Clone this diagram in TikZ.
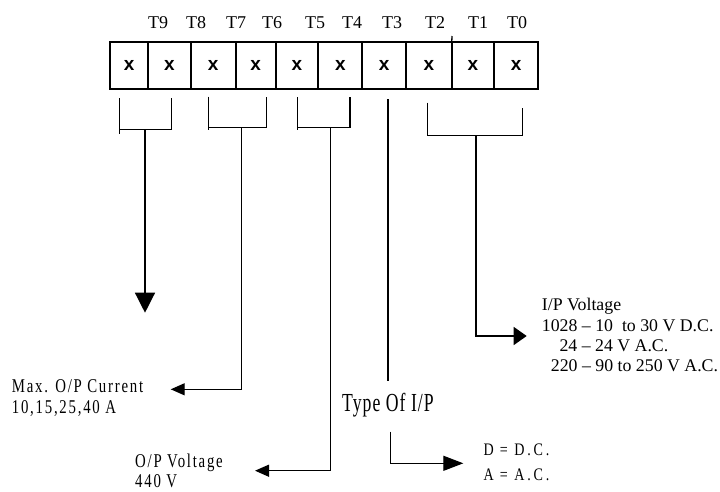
\documentclass[tikz,border=0pt]{standalone}
\usepackage{fontspec}
\setmainfont{Liberation Serif}
\newfontfamily\condfont[FakeStretch=0.76,LetterSpace=9]{Liberation Serif}
\newfontfamily\dafont[FakeStretch=0.8,LetterSpace=16]{Liberation Serif}
\newfontfamily\typefont[FakeStretch=0.68,LetterSpace=4]{Liberation Serif}
\newfontfamily\boxfont{Liberation Sans}
\usetikzlibrary{arrows.meta}
\tikzset{
  cell/.style={draw, line width=2pt, minimum height=47pt, inner sep=0pt, outer sep=0pt,
    font=\boxfont\bfseries\fontsize{19}{19}\selectfont},
  tlab/.style={inner sep=0pt, anchor=base, font=\fontsize{18}{18}\selectfont},
  wire/.style={line width=1.3pt},
  bighead/.style={-{Triangle[length=20pt,width=20pt]}},
  smallhead/.style={-{Triangle[length=14pt,width=12pt]}},
  midhead/.style={-{Triangle[length=13pt,width=18pt]}},
  dahead/.style={-{Triangle[length=20pt,width=15pt]}},
  line/.style={inner sep=0pt, anchor=base west},
  condline/.style={line, font=\condfont\fontsize{19.5}{20}\selectfont},
  daline/.style={line, font=\dafont\fontsize{17.6}{20}\selectfont},
  ipline/.style={line, font=\fontsize{17.8}{20}\selectfont},
}
\begin{document}
\begin{tikzpicture}[x=1pt,y=-1pt]
\useasboundingbox[fill=white] (0,0) rectangle (720,491);
% cells
\node[cell, minimum width=38.3pt] (c9) at (129.2,65.5) {x};
\node[cell, minimum width=42.4pt] (c8) at (169.5,65.5) {x};
\node[cell, minimum width=45pt]   (c7) at (213.2,65.5) {x};
\node[cell, minimum width=40pt]   (c6) at (255.7,65.5) {x};
\node[cell, minimum width=42.6pt] (c5) at (297,65.5) {x};
\node[cell, minimum width=44pt]   (c4) at (340.3,65.5) {x};
\node[cell, minimum width=43.7pt] (c3) at (384.2,65.5) {x};
\node[cell, minimum width=45.7pt] (c2) at (428.9,65.5) {x};
\node[cell, minimum width=42.3pt] (c1) at (472.9,65.5) {x};
\node[cell, minimum width=44.3pt] (c0) at (516.2,65.5) {x};
% tick
\coordinate (tk) at (452,36);
\draw[line width=1.3pt] (tk) -- (c1.north west);
% top labels
\node[tlab] (t9) at (158,28) {T9};
\node[tlab] (t8) at (196,28) {T8};
\node[tlab] (t7) at (236,28) {T7};
\node[tlab] (t6) at (272,28) {T6};
\node[tlab] (t5) at (315,28) {T5};
\node[tlab] (t4) at (352,28) {T4};
\node[tlab] (t3) at (392,28) {T3};
\node[tlab] (t2) at (435,28) {T2};
\node[tlab] (t1) at (478,28) {T1};
\node[tlab] (t0) at (517,28) {T0};
% brackets
\draw[wire] (119.3,98) -- (119.3,134);
\draw[wire] (119.3,129.3) -- (171.7,129.3) -- (171.7,98);
\draw[wire] (208.3,96.7) -- (208.3,130);
\draw[wire] (208.3,127.7) -- (266.7,127.7) -- (266.7,96.7);
\draw[wire] (297.3,97) -- (297.3,130);
\draw[wire] (297.3,127.7) -- (350,127.7) -- (350,97);
\draw[wire] (427.7,102.7) -- (427.7,135.7) -- (522.7,135.7) -- (522.7,108);
% stems
\coordinate (b1) at (145,129.3);
\coordinate (b2) at (241.7,127.7);
\coordinate (b3) at (330.7,127.7);
\coordinate (b4) at (388,99);
\coordinate (b4e) at (388,381);
\coordinate (b5) at (476,135.7);
\coordinate (tip1) at (145,312.7);
\coordinate (tip2) at (170.7,389.3);
\coordinate (tip3) at (255,470.7);
\coordinate (tip5) at (526.7,336);
\coordinate (da0) at (390.7,431.7);
\coordinate (datip) at (463.3,463.3);
% labels
\node[condline] (maxI1) at (11.7,392.7) {Max. O/P Current};
\node[condline] (maxI2) at (11.7,413.3) {10,15,25,40 A};
\node[condline] (opV1) at (135,467.5) {O/P Voltage};
\node[condline] (opV2) at (135,487.5) {440 V};
\node[inner sep=0pt, anchor=base, font=\typefont\fontsize{26}{26}\selectfont] (typ) at (388,411.7) {Type Of I/P};
\node[daline] (da1) at (483.3,455.5) {D = D.C.};
\node[daline] (da2) at (483.3,480.7) {A = A.C.};
\node[ipline] (ipv1) at (541.7,310.5) {I/P Voltage};
\node[ipline] (ipv2) at (541.7,331) {1028 -- 10\ \ to 30 V D.C.};
\node[ipline] (ipv3) at (559.3,351) {24 -- 24 V A.C.};
\node[ipline] (ipv4) at (550.7,371) {220 -- 90 to 250 V A.C.};
% connectors
\draw[wire,bighead] (b1) -- (tip1);
\draw[wire,smallhead] (b2) |- (tip2);
\draw[wire,smallhead] (b3) |- (tip3);
\draw[wire] (b4) -- (b4e);
\draw[wire,midhead] (b5) |- (tip5);
\draw[wire,dahead] (da0) |- (datip);
\end{tikzpicture}
\end{document}
